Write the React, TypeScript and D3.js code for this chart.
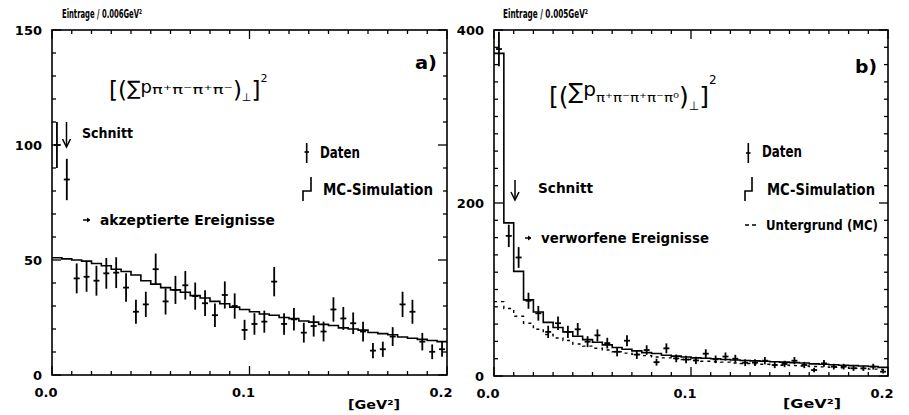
import React from 'react';
import * as d3 from 'd3';

const BIN = 0.005;
const NBINS = 40;

// Panel a) data
const dataA = [100, 85, 42, 42.7, 41, 44.2, 44.5, 38, 27.5, 30.7, 46, 32, 37, 39, 34.3, 31.2, 26, 34.8, 30, 19.6, 22.2, 23.2, 40.6, 22.2, 24.2, 18.4, 21.3, 18.9, 28.5, 24.6, 22.5, 18.9, 10.6, 11.2, 16.7, 30.7, 27.5, 14.5, 10.1, 11.2];
const errA = [10, 9, 6.5, 6.5, 6.5, 6.7, 6.7, 6.2, 5.2, 5.5, 6.8, 5.7, 6.1, 6.2, 5.9, 5.6, 5.1, 5.9, 5.5, 4.4, 4.7, 4.8, 6.4, 4.7, 4.9, 4.3, 4.6, 4.3, 5.3, 5.0, 4.7, 4.3, 3.3, 3.3, 4.1, 5.5, 5.2, 3.8, 3.2, 3.3];
const mcA = [51, 50.5, 50, 49.5, 48.5, 47.5, 46, 45, 43.5, 41, 39.5, 38, 37, 36, 34.5, 33.5, 32, 31, 29.5, 28.5, 27.5, 26.5, 26, 25, 24.5, 23.5, 23, 22, 21.5, 20.5, 20, 19.5, 18.5, 18, 17.5, 16.5, 16, 15.5, 15, 14.5];

// Panel b) data
const dataB = [378, 162, 137, 87, 72.5, 51, 61, 51, 54, 39.7, 47, 38, 28, 40.8, 24.7, 30, 16, 32, 20.4, 19, 18, 25.8, 19.3, 22.5, 20, 15.4, 15.4, 17.7, 12.7, 13.9, 17.7, 12.7, 6.9, 14.6, 10.8, 10.8, 8.9, 8.9, 10.8, 5];
const errB = [20, 13, 12, 9.3, 8.5, 7.1, 7.8, 7.1, 7.3, 6.3, 6.9, 6.2, 5.3, 6.4, 5, 5.5, 4, 5.7, 4.5, 4.4, 4.2, 5.1, 4.4, 4.7, 4.5, 3.9, 3.9, 4.2, 3.6, 3.7, 4.2, 3.6, 2.6, 3.8, 3.3, 3.3, 3, 3, 3.3, 2.2];
const mcB = [373, 177, 121, 88, 74, 62, 56, 51, 46, 42, 39, 36, 33, 31, 29, 27, 26, 24, 23, 22, 21, 20.5, 20, 19, 18.5, 18, 17.5, 17, 16.5, 16, 15.5, 15, 14, 13.5, 13, 12.5, 12, 11.5, 11, 10];
const bgB = [86, 78, 69, 61, 54, 48, 44, 41, 37, 34.5, 32, 30, 28, 26.5, 25, 23.5, 22, 21, 20, 19, 18, 17, 16.5, 16, 15, 14.5, 14, 13.5, 13, 12.5, 12, 11.5, 11, 10.5, 10, 9.5, 9, 8.5, 8, 7.5];

const yTicksA = [0, 50, 100, 150];
const yTicksB = [0, 200, 400];
const xTickVals = [0, 0.1, 0.2];
const xTickLabels = ['0.0', '0.1', '0.2'];

const FONT = "'DejaVu Sans', sans-serif";
const edges = d3.range(NBINS).map((i) => i * BIN);

type PanelProps = {
  x: d3.ScaleLinear<number, number>;
  y: d3.ScaleLinear<number, number>;
  data: number[];
  err: number[];
  mc: number[];
  bg?: number[];
  yMinor: number;
  yMajor: number;
  yTicks: number[];
  yMax: number;
};

function stepPath(x: d3.ScaleLinear<number, number>, y: d3.ScaleLinear<number, number>, vals: number[]) {
  const pts: [number, number][] = edges.map((e, i) => [e, vals[i]]);
  pts.push([edges[edges.length - 1] + BIN, vals[vals.length - 1]]);
  return d3
    .line<[number, number]>()
    .x((d) => x(d[0]))
    .y((d) => y(d[1]))
    .curve(d3.curveStepAfter)(pts) as string;
}

function Panel({ x, y, data, err, mc, bg, yMinor, yMajor, yTicks, yMax }: PanelProps) {
  const [x0, x1] = x.range();
  const [y0, y1] = y.range();
  const xMinor = d3.range(0, 0.2001, 0.01);
  const yMinorT = d3.range(0, yMax + 0.001, yMinor);
  return (
    <g>
      {xMinor.map((t, i) => {
        const major = Math.abs(t - Math.round(t * 10) / 10) < 1e-6;
        const len = major ? 9 : 4;
        return (
          <g key={'xt' + i}>
            <line x1={x(t)} x2={x(t)} y1={y0} y2={y0 - len} stroke="#000" strokeWidth={1.3} />
            <line x1={x(t)} x2={x(t)} y1={y1} y2={y1 + len} stroke="#000" strokeWidth={1.3} />
          </g>
        );
      })}
      {yMinorT.map((t, i) => {
        const major = Math.abs(t / yMajor - Math.round(t / yMajor)) < 1e-6;
        const len = major ? 9 : 4;
        return (
          <g key={'yt' + i}>
            <line x1={x0} x2={x0 + len} y1={y(t)} y2={y(t)} stroke="#000" strokeWidth={1.3} />
            <line x1={x1} x2={x1 - len} y1={y(t)} y2={y(t)} stroke="#000" strokeWidth={1.3} />
          </g>
        );
      })}
      <rect x={x0} y={y1} width={x1 - x0} height={y0 - y1} fill="none" stroke="#000" strokeWidth={1.6} />
      {bg && (
        <path d={stepPath(x, y, bg)} fill="none" stroke="#000" strokeWidth={1.4} strokeDasharray="3,4" />
      )}
      <path d={stepPath(x, y, mc)} fill="none" stroke="#000" strokeWidth={1.6} />
      {data.map((v, i) => {
        const cx = x(edges[i] + BIN / 2);
        return (
          <g key={'d' + i}>
            <line x1={cx} x2={cx} y1={y(v - err[i])} y2={y(v + err[i])} stroke="#000" strokeWidth={1.8} />
            <line x1={cx - 3} x2={cx + 3} y1={y(v)} y2={y(v)} stroke="#000" strokeWidth={1.8} />
          </g>
        );
      })}
      {yTicks.map((t) => (
        <text key={'yl' + t} x={x0 - 10} y={y(t) + 5} textAnchor="end" fontFamily={FONT} fontWeight="bold" fontSize={13} fill="#000">
          {t}
        </text>
      ))}
      {xTickVals.map((t, i) => (
        <text key={'xl' + i} x={x(t) - 6} y={y0 + 22} textAnchor="middle" fontFamily={FONT} fontWeight="bold" fontSize={13} fill="#000">
          {xTickLabels[i]}
        </text>
      ))}
    </g>
  );
}

export default function App() {
  const xA = d3.scaleLinear().domain([0, 0.2]).range([52, 447]);
  const yA = d3.scaleLinear().domain([0, 150]).range([375, 30]);
  const xB = d3.scaleLinear().domain([0, 0.2]).range([494, 888]);
  const yB = d3.scaleLinear().domain([0, 400]).range([376, 30]);
  const T = { fontFamily: FONT, fontWeight: 'bold' as const, fill: '#000' };
  const S = { fontFamily: "'DejaVu Sans', sans-serif", fill: '#000' };
  return (
    <svg width={909} height={415} style={{ position: 'absolute', left: 0, top: 0, background: '#fff' }}>
      <rect x={0} y={0} width={909} height={415} fill="#fff" />
      <Panel x={xA} y={yA} data={dataA} err={errA} mc={mcA} yMinor={10} yMajor={50} yTicks={yTicksA} yMax={150} />
      <Panel x={xB} y={yB} data={dataB} err={errB} mc={mcB} bg={bgB} yMinor={20} yMajor={200} yTicks={yTicksB} yMax={400} />

      <text x={62} y={18} {...T} fontSize={12} textLength={80} lengthAdjust="spacingAndGlyphs">Eintrage / 0.006GeV²</text>
      <text x={503} y={18} {...T} fontSize={12} textLength={85} lengthAdjust="spacingAndGlyphs">Eintrage / 0.005GeV²</text>

      <text x={348} y={409} {...T} fontSize={13} textLength={52} lengthAdjust="spacingAndGlyphs">[GeV²]</text>
      <text x={783} y={408} {...T} fontSize={13} textLength={58} lengthAdjust="spacingAndGlyphs">[GeV²]</text>

      <text x={415} y={69} {...T} fontSize={17} textLength={22} lengthAdjust="spacingAndGlyphs">a)</text>
      <text x={855} y={73} {...T} fontSize={18} textLength={22} lengthAdjust="spacingAndGlyphs">b)</text>

      {/* formula a */}
      <text x={109} y={98} {...S}>
        <tspan fontSize={23}>[(</tspan>
        <tspan dy={-3} fontSize={20}>∑</tspan>
        <tspan dy={-2} fontSize={18}>p</tspan>
        <tspan dy={1} fontSize={12} textLength={81} lengthAdjust="spacingAndGlyphs">π⁺π⁻π⁺π⁻</tspan>
        <tspan dy={4} fontSize={23}>)</tspan>
        <tspan dy={3} fontSize={11} fill="#000">⊥</tspan>
        <tspan dy={-3} fontSize={23}>]</tspan>
        <tspan dy={-16} fontSize={11}>2</tspan>
      </text>

      {/* formula b */}
      <text x={549} y={105} {...S}>
        <tspan fontSize={25}>[(</tspan>
        <tspan dy={-6} fontSize={22}>∑</tspan>
        <tspan dy={-3} fontSize={20}>p</tspan>
        <tspan dy={6} fontSize={13} textLength={83} lengthAdjust="spacingAndGlyphs">π⁺π⁻π⁺π⁻π⁰</tspan>
        <tspan dy={3} fontSize={25}>)</tspan>
        <tspan dy={5} fontSize={12} fill="#000">⊥</tspan>
        <tspan dy={-5} fontSize={25}>]</tspan>
        <tspan dy={-21} fontSize={12}>2</tspan>
      </text>

      {/* Schnitt a */}
      <line x1={66.5} x2={66.5} y1={122} y2={146} stroke="#000" strokeWidth={1.5} />
      <path d="M62.5,139 L66.5,147 L70.5,139" fill="none" stroke="#000" strokeWidth={1.5} />
      <text x={82} y={138} {...T} fontSize={14} textLength={51} lengthAdjust="spacingAndGlyphs">Schnitt</text>
      <line x1={83} x2={89} y1={220} y2={220} stroke="#000" strokeWidth={1.5} />
      <path d="M87,218 L90,220 L87,222" fill="#000" stroke="#000" strokeWidth={1} />
      <text x={100} y={225} {...T} fontSize={14} textLength={175} lengthAdjust="spacingAndGlyphs">akzeptierte Ereignisse</text>

      {/* legend a */}
      <line x1={306.7} x2={306.7} y1={143} y2={163} stroke="#000" strokeWidth={1.6} />
      <line x1={304.5} x2={309} y1={152} y2={152} stroke="#000" strokeWidth={1.6} />
      <text x={320} y={158} {...T} fontSize={15} textLength={40} lengthAdjust="spacingAndGlyphs">Daten</text>
      <path d="M303,201 V191 H311 V177" fill="none" stroke="#000" strokeWidth={1.6} />
      <text x={323} y={195} {...T} fontSize={15} textLength={110} lengthAdjust="spacingAndGlyphs">MC-Simulation</text>

      {/* Schnitt b */}
      <line x1={515} x2={515} y1={180} y2={199} stroke="#000" strokeWidth={1.5} />
      <path d="M511,192 L515,200 L519,192" fill="none" stroke="#000" strokeWidth={1.5} />
      <text x={538} y={193} {...T} fontSize={14} textLength={55} lengthAdjust="spacingAndGlyphs">Schnitt</text>
      <line x1={525} x2={530} y1={238} y2={238} stroke="#000" strokeWidth={1.5} />
      <path d="M528,236 L531,238 L528,240" fill="#000" stroke="#000" strokeWidth={1} />
      <text x={541} y={243} {...T} fontSize={14} textLength={168} lengthAdjust="spacingAndGlyphs">verworfene Ereignisse</text>

      {/* legend b */}
      <line x1={748.3} x2={748.3} y1={143} y2={163} stroke="#000" strokeWidth={1.6} />
      <line x1={746} x2={750.5} y1={153} y2={153} stroke="#000" strokeWidth={1.6} />
      <text x={762} y={157} {...T} fontSize={15} textLength={40} lengthAdjust="spacingAndGlyphs">Daten</text>
      <path d="M745,201 V191 H752 V177" fill="none" stroke="#000" strokeWidth={1.6} />
      <text x={767} y={195} {...T} fontSize={15} textLength={108} lengthAdjust="spacingAndGlyphs">MC-Simulation</text>
      <line x1={745} x2={757} y1={225} y2={225} stroke="#000" strokeWidth={1.4} strokeDasharray="4,3" />
      <text x={766} y={230} {...T} fontSize={14} textLength={112} lengthAdjust="spacingAndGlyphs">Untergrund (MC)</text>
    </svg>
  );
}
